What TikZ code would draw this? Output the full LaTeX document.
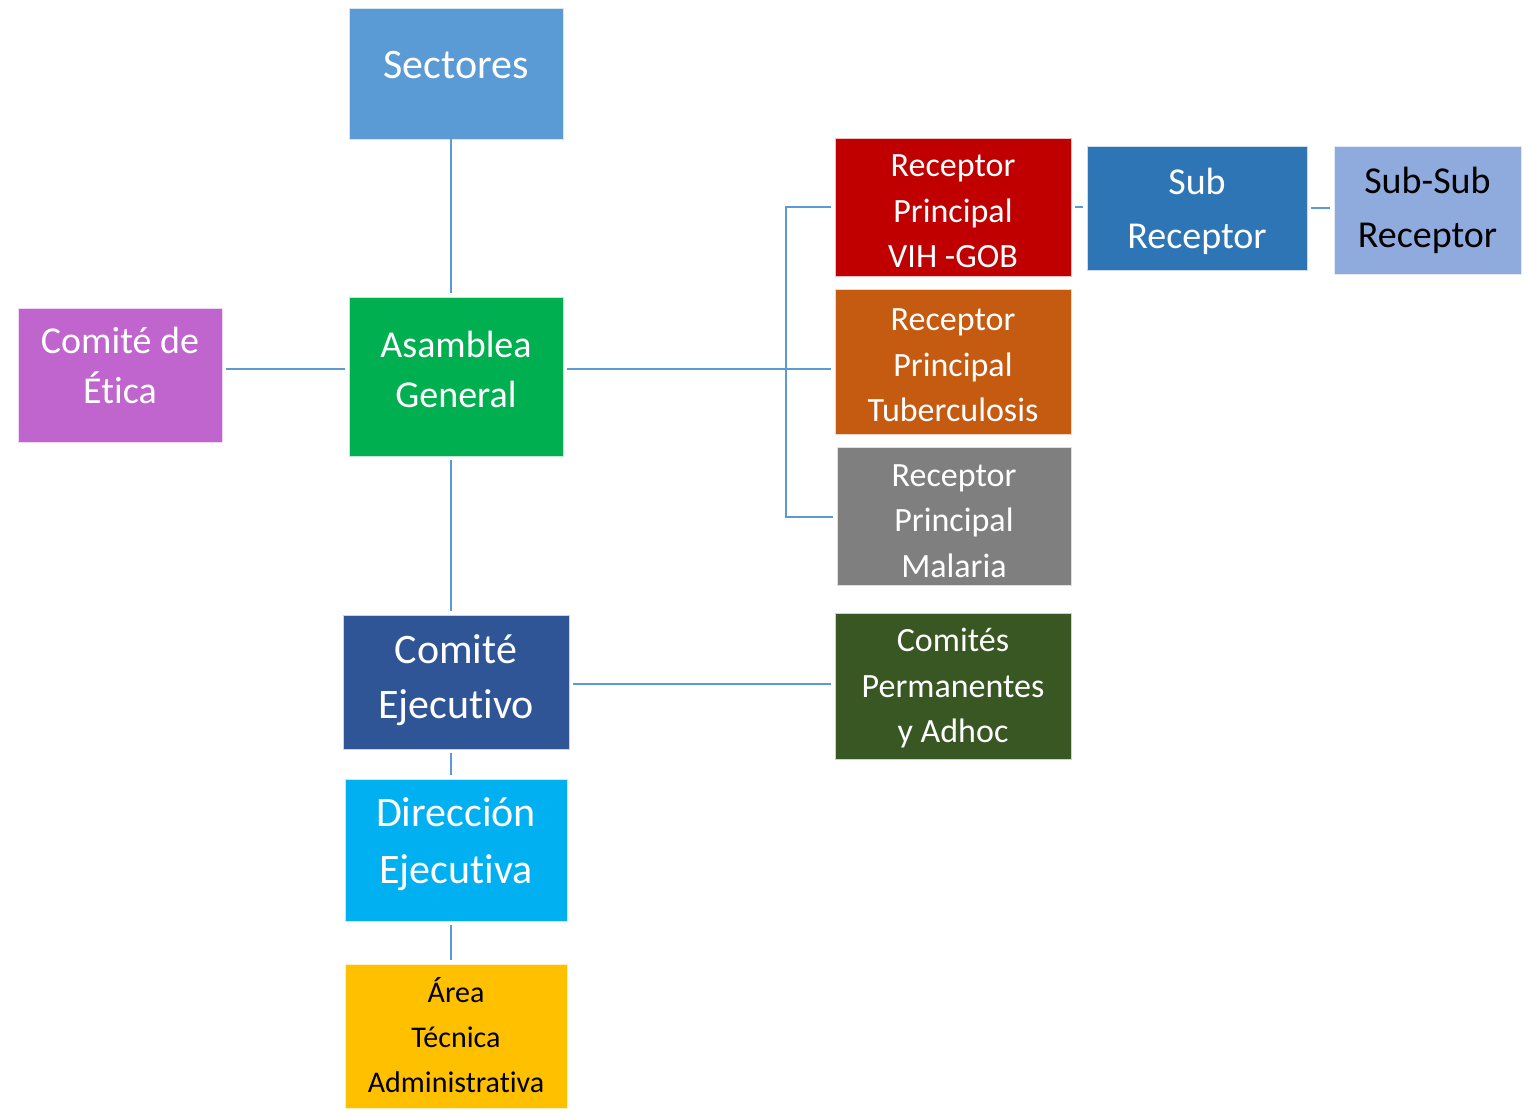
\documentclass[tikz,border=0pt]{standalone}
\usepackage{fontspec}
\setmainfont[Ligatures=NoCommon]{Carlito}
\definecolor{csect}{HTML}{5B9BD5}
\definecolor{cetica}{HTML}{C064CE}
\definecolor{casam}{HTML}{00B050}
\definecolor{cce}{HTML}{2F5597}
\definecolor{cdir}{HTML}{00B0F0}
\definecolor{carea}{HTML}{FFC000}
\definecolor{cvih}{HTML}{C00000}
\definecolor{ctb}{HTML}{C55A11}
\definecolor{cmal}{HTML}{7F7F7F}
\definecolor{ccp}{HTML}{385723}
\definecolor{csub}{HTML}{2E75B6}
\definecolor{cssub}{HTML}{8FAADC}
\definecolor{linec}{HTML}{5B9BD5}
\newcommand\boxtext[4]{\raisebox{#1}[\height][\depth]{\fontsize{#2}{#3}\selectfont\begin{tabular}{@{}c@{}}#4\end{tabular}}}
\begin{document}
\begin{tikzpicture}[x=0.5pt,y=-0.5pt,
  box/.style={rectangle, inner sep=0pt, outer sep=0pt, text=white, draw=white!75!#1, line width=0.4pt, fill=#1},
  conn/.style={draw=linec, line width=1pt},
  short/.style={shorten <=2pt, shorten >=2pt}]
\useasboundingbox (0,0) rectangle (1528,1110);
\fill[white] (0,0) rectangle (1528,1110);
\node[box=csect, minimum width=107pt, minimum height=65.5pt] (sect) at (456,73.5) {\boxtext{2.75pt}{21}{25}{Sectores}};
\node[box=cetica, minimum width=102pt, minimum height=67pt] (etica) at (120,375) {\boxtext{3.5pt}{19}{25}{Comité de\\Ética}};
\node[box=casam, minimum width=107pt, minimum height=79.5pt] (asam) at (456,376.5) {\boxtext{2.25pt}{19}{25}{Asamblea\\General}};
\node[box=cce, minimum width=113pt, minimum height=67pt] (ce) at (456,682) {\boxtext{1pt}{21}{27.5}{Comité\\Ejecutivo}};
\node[box=cdir, minimum width=111pt, minimum height=71pt] (dir) at (456,850) {\boxtext{3pt}{21}{28.5}{Dirección\\Ejecutiva}};
\node[box=carea, text=black, minimum width=111pt, minimum height=72pt] (area) at (456,1036) {\boxtext{-1pt}{15}{22.5}{Área\\Técnica\\Administrativa}};
\node[box=cvih, minimum width=118pt, minimum height=69pt] (vih) at (953,207) {\boxtext{-3pt}{17}{22.75}{Receptor\\Principal\\VIH -GOB}};
\node[box=ctb, minimum width=118pt, minimum height=72.5pt] (tb) at (953,361.5) {\boxtext{-2.75pt}{17}{22.75}{Receptor\\Principal\\Tuberculosis}};
\node[box=cmal, minimum width=117pt, minimum height=69pt] (mal) at (954,516) {\boxtext{-3.25pt}{17}{22.75}{Receptor\\Principal\\Malaria}};
\node[box=ccp, minimum width=118pt, minimum height=73pt] (cp) at (953,686) {\boxtext{-1pt}{17}{22.75}{Comités\\Permanentes\\y Adhoc}};
\node[box=csub, minimum width=110pt, minimum height=62pt] (sub) at (1197,208) {\boxtext{-1.5pt}{19}{27}{Sub\\Receptor}};
\node[box=cssub, text=black, minimum width=93.5pt, minimum height=64pt] (ssub) at (1427.5,210) {\boxtext{0pt}{19}{27}{Sub-Sub\\Receptor}};
\coordinate (vx) at (451,0);
\coordinate (hy) at (0,369);
\coordinate (cy) at (0,684);
\coordinate (busT) at (786,207);
\coordinate (busB) at (786,517);
\draw[conn, shorten >=2pt] (sect.south -| vx) -- (asam.north -| vx);
\draw[conn, short] (asam.south -| vx) -- (ce.north -| vx);
\draw[conn, short] (ce.south -| vx) -- (dir.north -| vx);
\draw[conn, short] (dir.south -| vx) -- (area.north -| vx);
\draw[conn, short] (etica.east |- hy) -- (asam.west |- hy);
\draw[conn, short] (asam.east |- hy) -- (tb.west |- hy);
\draw[conn, short] (vih.west |- busT) -- (busT) -- (busB) -- (mal.west |- busB);
\draw[conn, short] (ce.east |- cy) -- (cp.west |- cy);
\draw[conn, short] (vih.east) -- (sub.west |- vih.east);
\draw[conn, short] (sub.east) -- (ssub.west |- sub.east);
\end{tikzpicture}
\end{document}
